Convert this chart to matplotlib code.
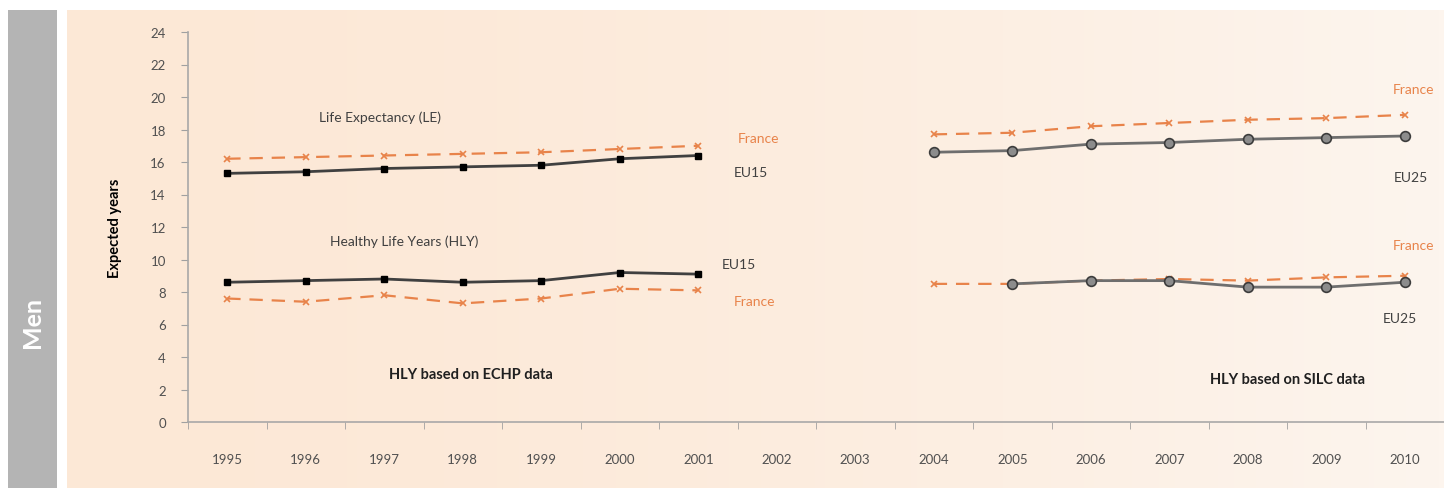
import matplotlib.pyplot as plt
import numpy as np

# Data
years = [str(y) for y in range(1995, 2011)]
echp_years = ["1995", "1996", "1997", "1998", "1999", "2000", "2001"]
silc_years = ["2004", "2005", "2006", "2007", "2008", "2009", "2010"]

eu15_le = [15.3, 15.4, 15.6, 15.7, 15.8, 16.2, 16.4]
fr_le_echp = [16.2, 16.3, 16.4, 16.5, 16.6, 16.8, 17.0]
eu15_hly = [8.6, 8.7, 8.8, 8.6, 8.7, 9.2, 9.1]
fr_hly_echp = [7.6, 7.4, 7.8, 7.3, 7.6, 8.2, 8.1]

eu25_le = [16.6, 16.7, 17.1, 17.2, 17.4, 17.5, 17.6]
fr_le_silc = [17.7, 17.8, 18.2, 18.4, 18.6, 18.7, 18.9]
eu25_hly_years = ["2005", "2006", "2007", "2008", "2009", "2010"]
eu25_hly = [8.5, 8.7, 8.7, 8.3, 8.3, 8.6]
fr_hly_silc = [8.5, 8.5, 8.7, 8.8, 8.7, 8.9, 9.0]

plt.rcParams["font.family"] = ["Lato", "DejaVu Sans"]

W, H = 1444, 489
fig = plt.figure(figsize=(W / 100, H / 100), dpi=100)
fig.patch.set_facecolor("white")

# peach background with a soft gradient towards the right
bg = fig.add_axes([67 / W, 0, 1 - 67 / W, (H - 11) / H], zorder=0)
grad = np.linspace(0, 1, 256)
c0 = np.array([252, 232, 214]) / 255
c1 = np.array([253, 245, 238]) / 255
img = c0[None, :] + (c1 - c0)[None, :] * (grad ** 1.6)[:, None]
bg.imshow(img[None, :, :], aspect="auto", extent=[0, 1, 0, 1])
bg.axis("off")

# grey side band with "Men"
band = fig.add_axes([8 / W, 0, 49 / W, (H - 11) / H], zorder=1)
band.set_facecolor("#b4b4b4")
band.set_xticks([])
band.set_yticks([])
for s in band.spines.values():
    s.set_visible(False)
band.text(0.5, (H - 322) / (H - 11), "Men", rotation=90, color="white",
          fontsize=18, fontweight="bold", ha="center", va="center",
          transform=band.transAxes)

ax = fig.add_axes([188 / W, (H - 423) / H, (W - 188) / W, (423 - 33) / H], zorder=2)
ax.patch.set_alpha(0)

pos = {y: i for i, y in enumerate(years)}
px = lambda ys: [pos[y] for y in ys]

orange = "#e8834a"
ax.plot(px(echp_years), fr_le_echp, color=orange, lw=1.6, dashes=(6, 4),
        marker="x", ms=5, mew=1.2)
ax.plot(px(echp_years), eu15_le, color="#404040", lw=2, marker="s", ms=5,
        mfc="black", mec="black")
ax.plot(px(echp_years), fr_hly_echp, color=orange, lw=1.6, dashes=(6, 4),
        marker="x", ms=5, mew=1.2)
ax.plot(px(echp_years), eu15_hly, color="#404040", lw=2, marker="s", ms=5,
        mfc="black", mec="black")

ax.plot(px(silc_years), fr_le_silc, color=orange, lw=1.6, dashes=(6, 4),
        marker="x", ms=5, mew=1.2)
ax.plot(px(silc_years), eu25_le, color="#6e6e6e", lw=2, marker="o", ms=7,
        mfc="#8c8c8c", mec="#3c3c3c", mew=1.2)
ax.plot(px(silc_years), fr_hly_silc, color=orange, lw=1.6, dashes=(6, 4),
        marker="x", ms=5, mew=1.2)
ax.plot(px(eu25_hly_years), eu25_hly, color="#6e6e6e", lw=2, marker="o", ms=7,
        mfc="#8c8c8c", mec="#3c3c3c", mew=1.2)

ax.set_xlim(-0.5, -0.5 + (W - 188) / 79)
ax.set_ylim(0, 24)
ax.set_yticks(range(0, 25, 2))
ax.set_xticks(range(len(years)))
ax.set_xticklabels(years)
ax.set_xticks(np.arange(-0.5, len(years), 1), minor=True)
ax.tick_params(axis="x", which="major", length=0, pad=22, labelsize=9.5,
               labelcolor="#505050")
ax.tick_params(axis="x", which="minor", length=5, color="#a0a0a0", direction="out")
ax.tick_params(axis="y", length=5, color="#a0a0a0", pad=11, labelsize=9.5,
               labelcolor="#505050")
for s in ["top", "right"]:
    ax.spines[s].set_visible(False)
for s in ["left", "bottom"]:
    ax.spines[s].set_color("#a8a8a8")
    ax.spines[s].set_linewidth(1.2)

ax.set_ylabel("Expected years", fontsize=10.5, fontweight="bold", labelpad=20)

txt = dict(fontsize=10, color="#404040")
ax.text(px(["1997"])[0] - 0.05, 18.5, "Life Expectancy (LE)", ha="center", **txt)
ax.text(px(["1997"])[0] + 0.25, 10.9, "Healthy Life Years (HLY)", ha="center", **txt)
ax.text(6.5, 17.5, "France", color=orange, fontsize=10, ha="left", va="center")
ax.text(6.45, 15.4, "EU15", ha="left", va="center", **txt)
ax.text(6.3, 9.7, "EU15", ha="left", va="center", **txt)
ax.text(6.45, 7.45, "France", color=orange, fontsize=10, ha="left", va="center")
ax.text(15.38, 20.5, "France", color=orange, fontsize=10, ha="right", va="center")
ax.text(15.3, 15.1, "EU25", ha="right", va="center", **txt)
ax.text(15.38, 10.9, "France", color=orange, fontsize=10, ha="right", va="center")
ax.text(15.15, 6.4, "EU25", ha="right", va="center", **txt)
ax.text(3.1, 2.95, "HLY based on ECHP data", ha="center", va="center",
        fontsize=10.5, fontweight="bold", color="#202020")
ax.text(13.5, 2.65, "HLY based on SILC data", ha="center", va="center",
        fontsize=10.5, fontweight="bold", color="#202020")

fig.savefig("out.png", dpi=100)
